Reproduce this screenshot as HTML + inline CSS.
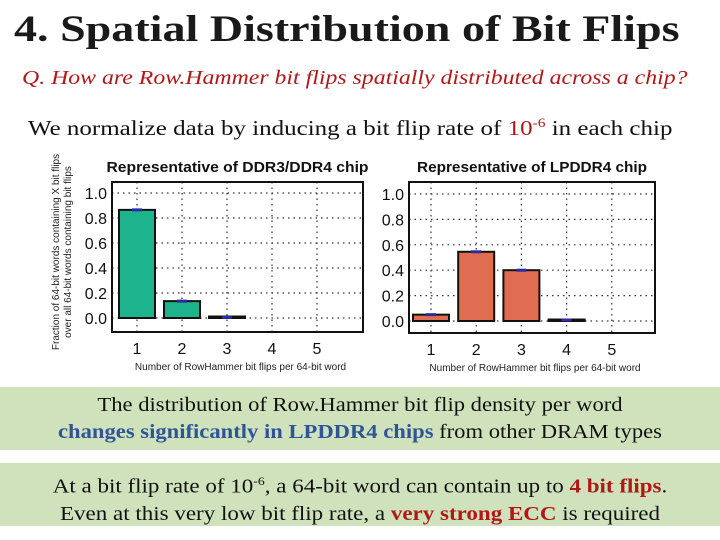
<!DOCTYPE html>
<html><head><meta charset="utf-8"><style>
body{margin:0;width:720px;height:540px;background:#fff;overflow:hidden;position:relative;font-family:"Liberation Serif",serif}
.t{position:absolute;white-space:nowrap;transform-origin:0 0}
.box{position:absolute;left:0;width:720px;background:#cfe2bc;text-align:center;font-size:20px;line-height:27px;color:#111}
.box div{transform-origin:50% 0}
</style></head><body>
<div class="t" style="left:14px;top:8px;font-size:37px;font-weight:bold;color:#1a1a1a;transform:scaleX(1.245)">4. Spatial Distribution of Bit Flips</div>
<div class="t" style="left:22px;top:67px;font-size:20px;font-style:italic;color:#b01818;transform:scaleX(1.19)">Q. How are Row.Hammer bit flips spatially distributed across a chip?</div>
<div class="t" style="left:28px;top:115px;font-size:21px;color:#111;transform:scaleX(1.19)">We normalize data by inducing a bit flip rate of <span style="color:#b01818">10<sup style="font-size:13px">-6</sup></span> in each chip</div>
<svg id="chart" width="720" height="540" style="position:absolute;left:0;top:0" font-family="Liberation Sans, sans-serif"></svg>
<div class="box" style="top:387px;height:63px;padding-top:5px;box-sizing:border-box"><div style="transform:scaleX(1.13)">The distribution of Row.Hammer bit flip density per word<br><b style="color:#2f5597">changes significantly in LPDDR4 chips</b> from other DRAM types</div></div>
<div class="box" style="top:463px;height:63px;padding-top:5px;box-sizing:border-box"><div style="transform:scaleX(1.15)">At a bit flip rate of 10<sup style="font-size:12px">-6</sup>, a 64-bit word can contain up to <b style="color:#b01818">4 bit flips</b>.<br>Even at this very low bit flip rate, a <b style="color:#b01818">very strong ECC</b> is required</div></div>
<script>
const categories=[1,2,3,4,5];
const ddrValues=[0.865,0.135,0.005,0,0];
const lpddrValues=[0.05,0.545,0.40,0.008,0];
const yTicks=[0.0,0.2,0.4,0.6,0.8,1.0];
const svg=document.getElementById('chart');
const NS='http://www.w3.org/2000/svg';
function mk(tag,attrs,parent){const e=document.createElementNS(NS,tag);for(const k in attrs)e.setAttribute(k,attrs[k]);(parent||svg).appendChild(e);return e;}
function drawChart(cfg,values,color,prefix){
  const xS=c=>cfg.x1+(c-1)*cfg.dx;
  const yS=v=>cfg.y0-v*(cfg.y0-cfg.y1);
  const g=mk('g',{});
  
  
  yTicks.forEach(t=>{
    const l=mk('line',{x1:cfg.l,x2:cfg.r,y1:yS(t),y2:yS(t),stroke:'#333','stroke-dasharray':'1.5,4','stroke-width':1.2},g);
    
    
    const tx=mk('text',{x:cfg.l-5,y:yS(t)+6,'font-size':16,'text-anchor':'end',fill:'#111'},g);
    tx.textContent=t.toFixed(1);
    
    
  });
  categories.forEach(c=>{
    const l=mk('line',{x1:xS(c),x2:xS(c),y1:cfg.t,y2:cfg.b,stroke:'#333','stroke-dasharray':'1.5,4','stroke-width':1.2},g);
    
    
    const tx=mk('text',{x:xS(c),y:cfg.b+22,'font-size':16,'text-anchor':'middle',fill:'#111'},g);
    tx.textContent=c;
    
    
  });
  values.forEach((v,i)=>{
    if(v<=0)return;
    const c=categories[i];
    const h=Math.max(yS(0)-yS(v),1.5);
    const b=mk('rect',{x:xS(c)-18,y:yS(0)-h,width:36,height:h,fill:color,stroke:'#111','stroke-width':2},g);
    
    
    const e=mk('line',{x1:xS(c)-5,x2:xS(c)+5,y1:yS(v),y2:yS(v),stroke:'#2a2aa8','stroke-width':3},g);
    
    
  });
  const f=mk('rect',{x:cfg.l,y:cfg.t,width:cfg.r-cfg.l,height:cfg.b-cfg.t,fill:'none',stroke:'#111','stroke-width':2},g);
  
  
  const tt=mk('text',{x:(cfg.l+cfg.r)/2,y:cfg.t-10,'font-size':15,'font-weight':'bold','text-anchor':'middle',fill:'#111',textLength:cfg.tw,lengthAdjust:'spacingAndGlyphs'},g);
  tt.textContent=cfg.title;
  
  
  const xt=mk('text',{x:(cfg.l+cfg.r)/2+3,y:cfg.b+38,'font-size':10,'text-anchor':'middle',fill:'#222'},g);
  xt.textContent='Number of RowHammer bit flips per 64-bit word';
  
  
}
drawChart({l:112,r:363,t:182,b:332,y0:318,y1:193,x1:137,dx:45,title:'Representative of DDR3/DDR4 chip',tw:262},ddrValues,'#1db38c','ddr');
drawChart({l:409,r:655,t:182,b:333,y0:321,y1:194,x1:431,dx:45.2,title:'Representative of LPDDR4 chip',tw:230},lpddrValues,'#e06d52','lpddr');
const yt=mk('text',{transform:'translate(59,252) rotate(-90)','font-size':10,'text-anchor':'middle',fill:'#222'});
yt.innerHTML='<tspan x="0" dy="0">Fraction of 64-bit words containing X bit flips</tspan><tspan x="0" dy="12">over all 64-bit words containing bit flips</tspan>';


</script>
</body></html>
